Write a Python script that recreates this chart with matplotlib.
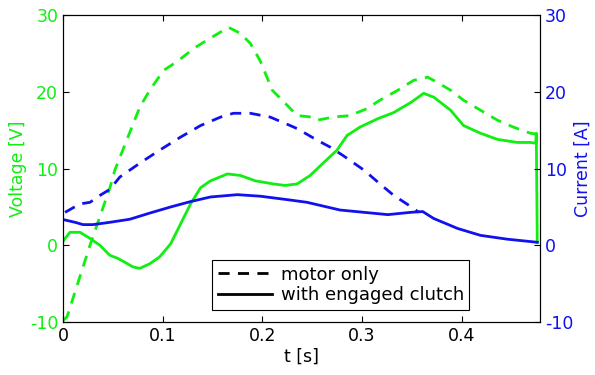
import matplotlib.pyplot as plt

plt.rcParams['axes.unicode_minus'] = False

# voltage, motor only (green dashed)
t_v_motor = [0.000, 0.004, 0.027, 0.047, 0.052, 0.077, 0.087, 0.101, 0.113, 0.133, 0.148,
             0.166, 0.178, 0.188, 0.198, 0.210, 0.223, 0.235, 0.250, 0.255, 0.271, 0.288,
             0.305, 0.318, 0.336, 0.352, 0.366, 0.376, 0.389, 0.402, 0.419, 0.436, 0.452,
             0.469, 0.475]
v_motor = [-9.8, -9.3, 0.0, 7.5, 9.8, 18.0, 20.2, 22.8, 23.8, 25.8, 27.0,
           28.4, 27.6, 26.3, 24.0, 20.2, 18.5, 16.9, 16.7, 16.3, 16.7, 16.9,
           17.8, 18.9, 20.2, 21.5, 21.9, 21.2, 20.2, 18.9, 17.6, 16.3, 15.4,
           14.6, 14.5]

# voltage, with engaged clutch (green solid)
t_v_clutch = [0.000, 0.002, 0.007, 0.017, 0.027, 0.037, 0.047, 0.055, 0.062, 0.070, 0.077,
              0.087, 0.097, 0.108, 0.118, 0.128, 0.138, 0.148, 0.165, 0.178, 0.193,
              0.211, 0.223, 0.235, 0.248, 0.261, 0.275, 0.285, 0.298, 0.316, 0.332,
              0.349, 0.362, 0.372, 0.389, 0.402, 0.419, 0.436, 0.456, 0.469, 0.4745,
              0.475, 0.476]
v_clutch = [0.5, 0.9, 1.7, 1.7, 0.9, 0.0, -1.3, -1.7, -2.2, -2.8, -3.0,
            -2.4, -1.5, 0.2, 2.8, 5.4, 7.5, 8.4, 9.3, 9.1, 8.4,
            8.0, 7.8, 8.0, 9.1, 10.7, 12.4, 14.3, 15.4, 16.5, 17.3,
            18.6, 19.8, 19.3, 17.6, 15.6, 14.6, 13.8, 13.4, 13.4, 13.3,
            14.6, 0.4]

# current, motor only (blue dashed)
t_i_motor = [0.002, 0.017, 0.027, 0.037, 0.047, 0.057, 0.077, 0.097, 0.118, 0.138, 0.158,
             0.171, 0.188, 0.208, 0.228, 0.235, 0.255, 0.268, 0.281, 0.302, 0.319,
             0.332, 0.352, 0.357]
i_motor = [4.3, 5.4, 5.6, 6.5, 7.3, 8.9, 10.7, 12.4, 14.1, 15.6, 16.7,
           17.2, 17.2, 16.7, 15.6, 15.2, 13.7, 12.8, 11.7, 9.8, 7.9,
           6.5, 4.8, 4.3]

# current, with engaged clutch (blue solid)
t_i_clutch = [0.002, 0.012, 0.020, 0.030, 0.047, 0.067, 0.087, 0.108, 0.128, 0.148,
              0.175, 0.198, 0.228, 0.245, 0.278, 0.326, 0.349, 0.361, 0.372, 0.396,
              0.419, 0.446, 0.476]
i_clutch = [3.3, 3.0, 2.7, 2.7, 3.0, 3.4, 4.2, 5.0, 5.7, 6.3,
            6.6, 6.4, 5.9, 5.6, 4.6, 4.0, 4.3, 4.4, 3.5, 2.2,
            1.3, 0.8, 0.4]

green = '#11ee11'
blue = '#1111ee'

fig = plt.figure(figsize=(5.95, 3.75), dpi=100)
ax = fig.add_axes([0.106, 0.141, 0.802, 0.819])
ax2 = ax.twinx()

ax.plot(t_v_motor, v_motor, color=green, lw=2, ls=(0, (4, 3)))
ax.plot(t_v_clutch, v_clutch, color=green, lw=2)
ax2.plot(t_i_motor, i_motor, color=blue, lw=2, ls=(0, (4, 3)))
ax2.plot(t_i_clutch, i_clutch, color=blue, lw=2)

ax.set_xlim(0, 0.479)
ax.set_ylim(-10, 30)
ax2.set_ylim(-10, 30)
ax.set_xticks([0, 0.1, 0.2, 0.3, 0.4])
ax.set_xticklabels(['0', '0.1', '0.2', '0.3', '0.4'])
ax.set_yticks([-10, 0, 10, 20, 30])
ax2.set_yticks([-10, 0, 10, 20, 30])

ax.tick_params(axis='x', direction='in', top=True, labelsize=12.5, length=4, colors='black')
ax.tick_params(axis='y', direction='in', labelsize=12.5, length=4, labelcolor=green)
ax2.tick_params(axis='y', direction='in', labelsize=12.5, length=4, labelcolor=blue)

ax.set_xlabel('t [s]', fontsize=12.5, labelpad=2)
ax.set_ylabel('Voltage [V]', fontsize=12.5, color=green, labelpad=2)
ax2.set_ylabel('Current [A]', fontsize=12.5, color=blue, labelpad=0)

# legend with black line styles
h1, = ax.plot([], [], color='black', lw=2, ls=(0, (4, 3)), label='motor only')
h2, = ax.plot([], [], color='black', lw=2, label='with engaged clutch')
leg = ax.legend(handles=[h1, h2], loc='lower center', bbox_to_anchor=(0.582, 0.04),
                fontsize=13, fancybox=False, edgecolor='black', framealpha=1,
                handlelength=3, handletextpad=0.5, borderpad=0.3, labelspacing=0.15,
                borderaxespad=0)
leg.get_frame().set_linewidth(0.8)

plt.savefig('out.png', dpi=100)
